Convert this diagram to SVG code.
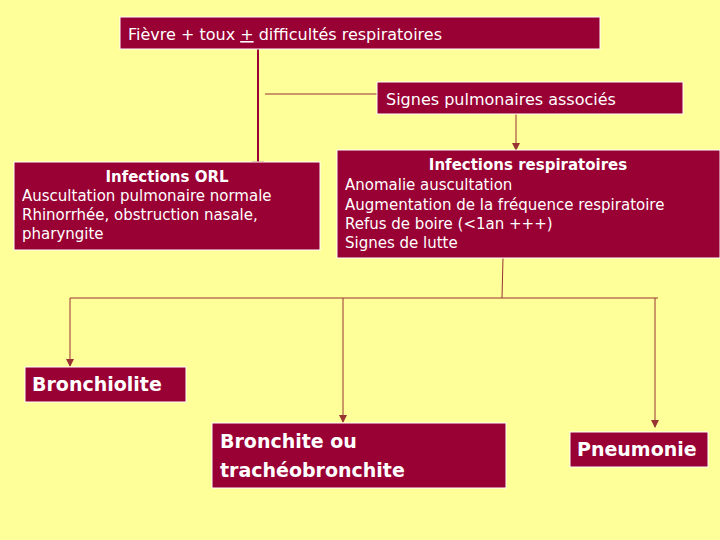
<svg xmlns="http://www.w3.org/2000/svg" width="720" height="540" viewBox="0 0 720 540">
<style>
.b{fill:#990033;stroke:#fff;stroke-width:1}
text{fill:#fff;font-family:"DejaVu Sans","Liberation Sans",sans-serif}
.t{font-size:16px}
.h{font-size:15px;font-weight:bold}
.n{font-size:15px}
.big{font-size:19px;font-weight:bold}
.c{stroke:#993333;stroke-width:1;fill:none}
</style>
<defs><marker id="a" markerWidth="8" markerHeight="8" refX="7" refY="4" orient="auto" markerUnits="userSpaceOnUse"><path d="M0,0L8,4L0,8z" fill="#993333"/></marker></defs>
<rect width="720" height="540" fill="#FFFF99"/>
<g id="connectors">
<line x1="258" y1="48" x2="258" y2="162" stroke="#990033" stroke-width="2"/>
<line x1="252" y1="162" x2="264" y2="162" class="c"/>
<line class="c" x1="265" y1="94" x2="377" y2="94"/>
<line class="c" x1="516" y1="114" x2="516" y2="150" marker-end="url(#a)"/>
<line class="c" x1="503" y1="258" x2="502" y2="298"/>
<line class="c" x1="70" y1="298" x2="658" y2="298"/>
<line class="c" x1="70" y1="298" x2="70" y2="366" marker-end="url(#a)"/>
<line class="c" x1="343" y1="298" x2="343" y2="422" marker-end="url(#a)"/>
<line class="c" x1="655" y1="298" x2="655" y2="427" marker-end="url(#a)"/>
</g>
<g id="n1"><rect class="b" x="120" y="17" width="480" height="32"/><text class="t" x="128" y="40">Fièvre + toux  <tspan text-decoration="underline">+</tspan>  difficultés respiratoires</text></g>
<g id="n2"><rect class="b" x="377" y="82" width="306" height="32"/><text class="t" x="386" y="105">Signes pulmonaires associés</text></g>
<g id="n3"><rect class="b" x="14" y="162" width="306" height="88"/>
<text class="h" x="167" y="182" text-anchor="middle">Infections ORL</text>
<text class="n" x="22" y="201">Auscultation pulmonaire normale</text>
<text class="n" x="22" y="220">Rhinorrhée, obstruction nasale,</text>
<text class="n" x="22" y="239">pharyngite</text></g>
<g id="n4"><rect class="b" x="337" y="150" width="383" height="108"/>
<text class="h" x="528" y="170" text-anchor="middle">Infections respiratoires</text>
<text class="n" x="345" y="190">Anomalie auscultation</text>
<text class="n" x="345" y="210">Augmentation de la fréquence respiratoire</text>
<text class="n" x="345" y="229">Refus de boire (&lt;1an +++)</text>
<text class="n" x="345" y="248">Signes de lutte</text></g>
<g id="n5"><rect class="b" x="25" y="367" width="161" height="35"/><text class="big" x="32" y="391">Bronchiolite</text></g>
<g id="n6"><rect class="b" x="212" y="423" width="294" height="65"/><text class="big" x="220" y="448">Bronchite ou</text><text class="big" x="220" y="477">trachéobronchite</text></g>
<g id="n7"><rect class="b" x="570" y="432" width="138" height="35"/><text class="big" x="577" y="456">Pneumonie</text></g>
</svg>
